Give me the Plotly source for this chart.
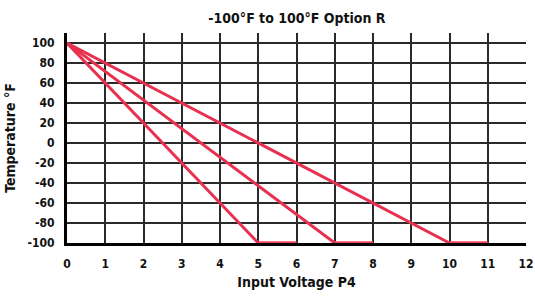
import plotly.graph_objects as go

# Data
start_v = 0
start_t = 100
end_voltages = [5, 7, 10]        # voltage where each line reaches -100°F
flat_end_voltages = [6, 8, 11]   # end of flat segment at -100°F
bottom_t = -100
x_ticks = list(range(0, 13))
y_ticks = list(range(-100, 101, 20))

line_color = "#e8304f"
flat_color = "#f04560"
font_family = "DejaVu Sans Condensed, Liberation Sans Narrow, Roboto, sans-serif"

fig = go.Figure()
for xe, xf in zip(end_voltages, flat_end_voltages):
    fig.add_trace(go.Scatter(x=[start_v, xe], y=[start_t, bottom_t], mode="lines",
                             line=dict(color=line_color, width=3), cliponaxis=False,
                             showlegend=False, hoverinfo="skip"))
    fig.add_trace(go.Scatter(x=[xe, xf], y=[bottom_t, bottom_t], mode="lines",
                             line=dict(color=flat_color, width=3.5), cliponaxis=False,
                             showlegend=False, hoverinfo="skip"))

fig.update_layout(
    width=535, height=296,
    margin=dict(l=67, r=9, t=33, b=53, autoexpand=False),
    paper_bgcolor="white", plot_bgcolor="white",
    title=dict(text="<b>-100°F to 100°F Option R</b>", x=0.555, xanchor="center",
               y=0.94, yanchor="middle",
               font=dict(family=font_family, size=14, color="#111")),
    font=dict(family=font_family, size=12, color="#111"),
    xaxis=dict(range=[0, 12], tickvals=x_ticks, ticktext=[f"<b>{v}</b>" for v in x_ticks],
               automargin=False,
               showgrid=True, gridcolor="#2a2a2a", gridwidth=1.5,
               showline=True, linecolor="#000", linewidth=3, layer="below traces",
               zeroline=False, ticks="outside", ticklen=8, tickcolor="rgba(0,0,0,0)",
               tickfont=dict(family=font_family, size=12, color="#111"),
               title=dict(text="<b>Input Voltage P4</b>", standoff=7,
                          font=dict(family=font_family, size=14, color="#111"))),
    yaxis=dict(range=[-100, 110], tickvals=y_ticks, ticktext=[f"<b>{v}</b>" for v in y_ticks],
               automargin=False,
               showgrid=True, gridcolor="#2a2a2a", gridwidth=1.5,
               showline=True, linecolor="#000", linewidth=3, layer="below traces",
               zeroline=False, ticks="outside", ticklen=7, tickcolor="rgba(0,0,0,0)",
               tickfont=dict(family=font_family, size=12, color="#111"),
               title=dict(text="<b>Temperature °F</b>", standoff=9,
                          font=dict(family=font_family, size=14, color="#111"))),
)

fig.write_html("out.html", config={"displayModeBar": False},
               post_script="document.body.style.margin='0';document.body.style.overflow='hidden';")
